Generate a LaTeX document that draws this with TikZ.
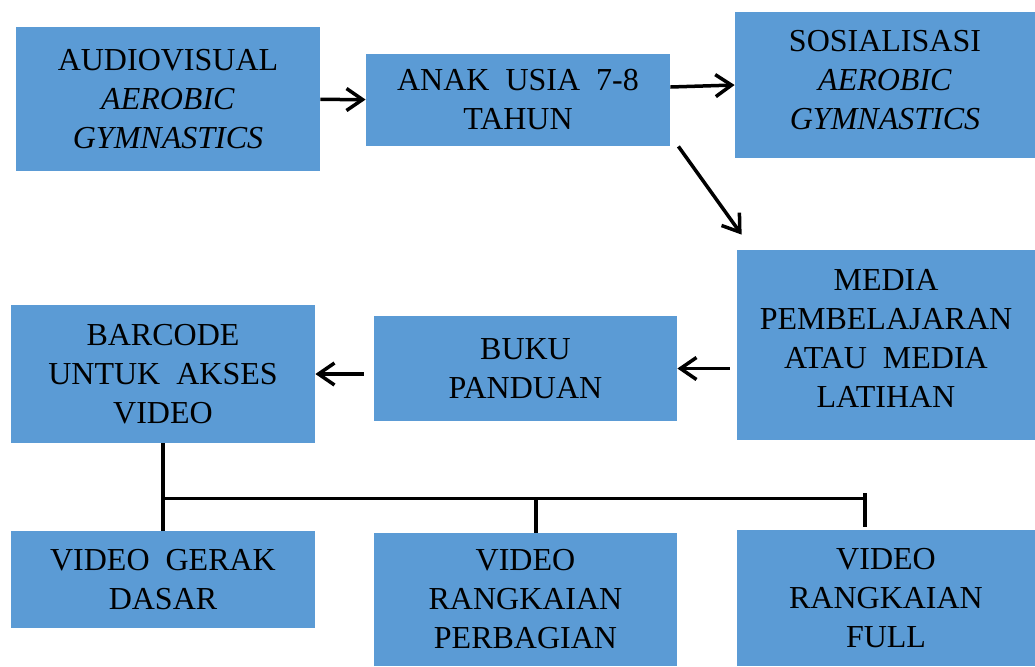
\documentclass[tikz,border=0pt]{standalone}
\usepackage{fontspec}
\setmainfont{Liberation Serif}
\usetikzlibrary{arrows.meta}

\definecolor{boxblue}{HTML}{5B9BD5}
\newcommand{\wsp}{\hspace{.5em}}

\tikzset{
  box/.style={fill=boxblue, inner sep=0pt, align=center,
    font=\fontsize{16}{19.5}\selectfont},
  link/.style={line width=1.75pt, -{Straight Barb[length=8pt,width=11pt]}},
  tree/.style={line width=2pt}
}

\begin{document}
\begin{tikzpicture}[x=0.5pt, y=-0.5pt]
  \useasboundingbox (0,0) rectangle (1035,666);
  % top row
  \node[box, minimum width=152pt, minimum height=72pt] (audio) at (168,99)
    {AUDIOVISUAL\\\textit{AEROBIC}\\\textit{GYMNASTICS}};
  \node[box, minimum width=152pt, minimum height=46pt] (anak) at (518,100)
    {ANAK\wsp USIA\wsp 7-8\\TAHUN};
  \node[box, minimum width=150pt, minimum height=73pt] (sosial) at (885,85)
    {SOSIALISASI\\\textit{AEROBIC}\\\textit{GYMNASTICS}\rule[-5pt]{0pt}{0pt}};
  % middle row
  \node[box, minimum width=149pt, minimum height=95pt] (media) at (886,345)
    {MEDIA\\PEMBELAJARAN\\ATAU\wsp MEDIA\\LATIHAN\rule[-7pt]{0pt}{0pt}};
  \node[box, minimum width=151.5pt, minimum height=52.5pt] (buku) at (525.5,368.5)
    {BUKU\\PANDUAN};
  \node[box, minimum width=152pt, minimum height=69pt] (barcode) at (163,374)
    {BARCODE\\UNTUK\wsp AKSES\\VIDEO};
  % bottom row
  \node[box, minimum width=152pt, minimum height=48.5pt] (gerak) at (163,579.5)
    {VIDEO\wsp GERAK\\DASAR};
  \node[box, minimum width=151.5pt, minimum height=66.5pt] (perbagian) at (525.5,599.5)
    {VIDEO\\RANGKAIAN\\PERBAGIAN};
  \node[box, minimum width=149pt, minimum height=68pt] (full) at (886,598)
    {VIDEO\\RANGKAIAN\\FULL};

  % arrows
  \draw[link] (audio) -- (anak);
  \draw[link] ([yshift=6.5pt]anak.east) -- (sosial.west);
  \draw[link] ([xshift=4pt]anak.south east) -- ([shift={(2.5pt,7.5pt)}]media.north west);
  \draw[link] ([xshift=-3.5pt]media.west |- buku.east) -- (buku.east);
  \draw[link] ([xshift=-5pt]buku.west |- barcode.east) -- (barcode.east);

  % video branches
  \coordinate (split) at (163,498);
  \coordinate (midend) at (536,498);
  \coordinate (rightend) at (865,498);
  \draw[tree] (barcode.south) -- (gerak.north);
  \draw[line width=1.5pt] (split) -- (rightend);
  \draw[tree] (midend) -- (midend |- perbagian.north);
  \draw[tree] ([yshift=2.5pt]rightend) -- ([yshift=1.5pt]rightend |- full.north);
\end{tikzpicture}
\end{document}
